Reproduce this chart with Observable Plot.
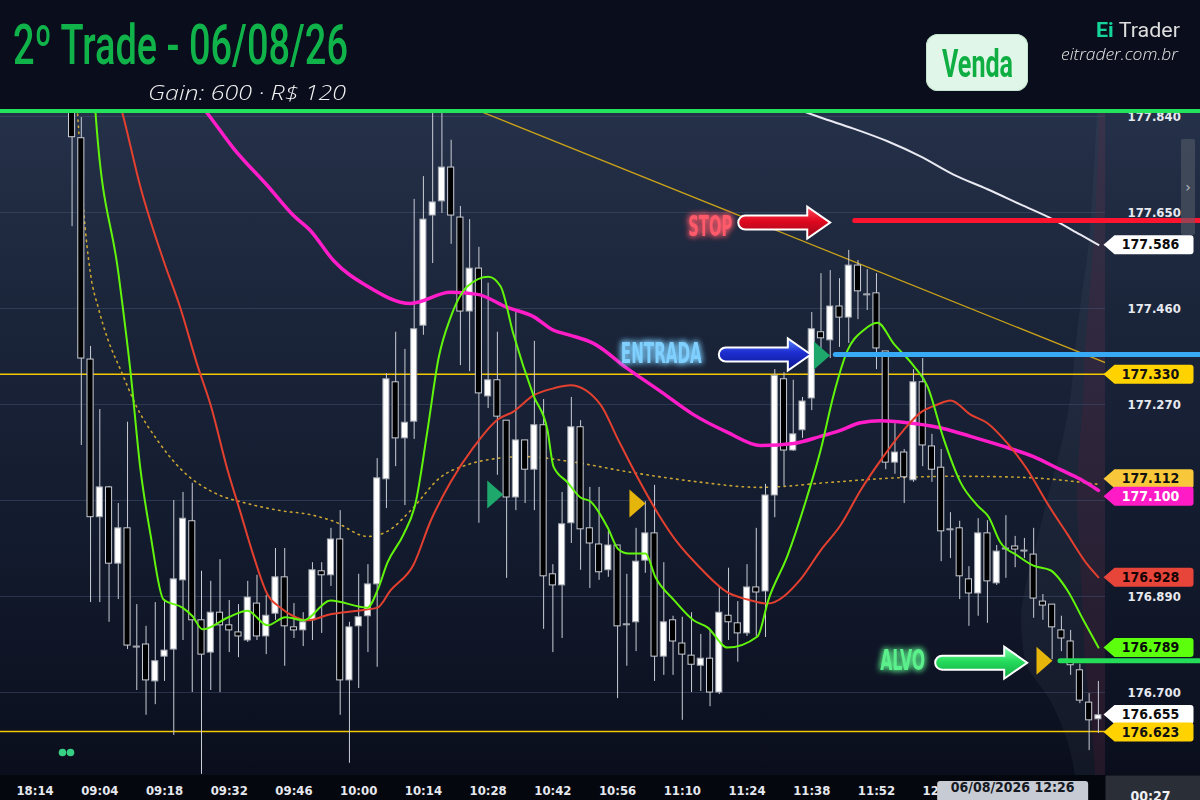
<!DOCTYPE html>
<html lang="pt-BR">
<head>
<meta charset="utf-8">
<title>2º Trade - 06/08/26</title>
<script src="https://cdn.jsdelivr.net/npm/d3@7"></script>
<script src="https://cdn.jsdelivr.net/npm/@observablehq/plot@0.6"></script>
<style>
  html, body { margin: 0; padding: 0; background: #0a0d1b; }
  #wrap { position: relative; width: 1200px; height: 800px; overflow: hidden; background: #0a0d1b; }
  #chart { position: absolute; left: 0; top: 110px; }
  .hdr { position: absolute; white-space: nowrap; line-height: 1; display: inline-block; z-index: 4; }
  #title { top: 13px; font: 500 55px Roboto, sans-serif; color: #10b34a; }
  #gain { top: 78px; font: italic 300 21px "Open Sans", sans-serif; color: #f2f2f2; }
  #brand { top: 18px; font: 400 20px Roboto, sans-serif; color: #dedede; }
  #brand b { color: #14d49a; font-weight: 700; }
  #site { top: 43px; font: italic 300 16px "Open Sans", sans-serif; color: #e8e8e8; }
  #badge { position: absolute; left: 926px; top: 34px; width: 102px; height: 57px; border-radius: 12px;
           background: #e0f6e8; box-shadow: inset 0 0 0 1px #c4e4cf; z-index: 3; }
  #venda { top: 42px; font: 700 38px Roboto, sans-serif; color: #0fae43; }
  #sep { position: absolute; left: 0; top: 109px; width: 1200px; height: 4px; background: #22e35b; z-index: 3; }
  #scroll { position: absolute; left: 1181px; top: 139px; width: 14px; height: 96px; background: rgba(88, 94, 106, 0.55);
            border-radius: 2px; color: #b8bcc4; font: 14px "DejaVu Sans", sans-serif; text-align: center; line-height: 96px; z-index: 2; }
</style>
</head>
<body>
<div id="wrap">
  <div id="chart"></div>
  <div id="sep"></div>
  <div id="scroll">›</div>
  <div id="title" class="hdr"></div>
  <div id="gain" class="hdr"></div>
  <div id="badge"></div>
  <div id="venda" class="hdr"></div>
  <div id="brand" class="hdr"><b>Ei</b> <span></span></div>
  <div id="site" class="hdr"></div>
</div>
<script>
"use strict";

// ---- header texts
const TITLE = "2º Trade - 06/08/26";
const GAIN = "Gain: 600 · R$ 120";
const SIDE = "Venda";
const BRAND = "Trader";
const SITE = "eitrader.com.br";

// ---- candles (2-min), first one is index -3 (prev. session), index 0 = 09:04
const firstIdx = -3;
const open = [
  177.882, 177.797, 177.359, 177.047, 177.106, 176.955, 177.025, 176.789, 176.795, 176.722,
  176.771, 176.785, 176.922, 177.039, 176.843, 176.779, 176.858, 176.833, 176.819, 176.803,
  176.876, 176.811, 176.856, 176.928, 176.829, 176.823, 176.843, 176.940, 176.932, 177.003,
  176.724, 176.831, 176.851, 176.914, 177.122, 177.314, 177.203, 177.236, 177.426, 177.644,
  177.672, 177.739, 177.640, 177.454, 177.539, 177.286, 177.318, 177.238, 177.086, 177.199,
  177.141, 177.229, 176.934, 176.912, 177.035, 177.225, 177.025, 176.993, 176.942, 176.991,
  176.833, 176.839, 176.961, 177.015, 176.771, 176.843, 176.797, 176.773, 176.753, 176.767,
  176.700, 176.852, 176.837, 176.817, 176.908, 176.900, 177.090, 177.320, 177.179, 177.219,
  177.282, 177.413, 177.397, 177.464, 177.442, 177.545, 177.486, 177.490, 177.375, 177.155,
  177.175, 177.120, 177.314, 177.187, 177.145, 177.021, 177.025, 176.924, 176.896, 177.015,
  176.916, 176.983, 176.989, 176.979, 176.973, 176.880, 176.874, 176.823, 176.801, 176.744,
  176.680, 176.647];
const high = [
  177.896, 177.838, 177.385, 177.260, 177.108, 177.074, 177.235, 176.874, 176.831, 176.878,
  176.884, 177.080, 177.096, 177.114, 176.940, 176.920, 176.963, 176.882, 176.874, 176.920,
  176.932, 176.892, 176.985, 176.985, 176.876, 176.858, 176.957, 176.957, 177.025, 177.060,
  176.839, 176.934, 176.953, 177.163, 177.331, 177.413, 177.379, 177.676, 177.721, 177.870,
  177.865, 177.793, 177.662, 177.636, 177.581, 177.510, 177.413, 177.238, 177.452, 177.199,
  177.395, 177.280, 176.953, 177.096, 177.284, 177.238, 177.106, 177.106, 177.019, 176.991,
  176.934, 177.025, 177.078, 177.110, 176.957, 176.851, 176.849, 176.858, 176.815, 176.825,
  176.908, 176.946, 176.880, 176.953, 177.025, 177.112, 177.339, 177.333, 177.318, 177.284,
  177.452, 177.529, 177.535, 177.519, 177.575, 177.555, 177.537, 177.529, 177.375, 177.232,
  177.181, 177.339, 177.361, 177.211, 177.181, 177.056, 177.039, 176.949, 177.044, 177.040,
  176.991, 177.050, 177.009, 177.005, 177.025, 176.894, 176.874, 176.851, 176.823, 176.756,
  176.698, 176.722];
const low = [
  177.622, 177.189, 176.878, 176.878, 176.839, 176.884, 176.785, 176.704, 176.655, 176.676,
  176.722, 176.615, 176.803, 176.700, 176.538, 176.704, 176.700, 176.779, 176.769, 176.799,
  176.803, 176.775, 176.843, 176.752, 176.807, 176.791, 176.803, 176.817, 176.910, 176.655,
  176.560, 176.708, 176.779, 176.750, 177.064, 177.147, 177.070, 177.201, 177.407, 177.549,
  177.648, 177.587, 177.347, 177.335, 177.035, 177.262, 177.130, 176.926, 177.060, 177.074,
  177.060, 176.825, 176.779, 176.807, 176.995, 176.942, 176.906, 176.922, 176.928, 176.688,
  176.752, 176.781, 176.936, 176.722, 176.734, 176.734, 176.645, 176.700, 176.702, 176.672,
  176.696, 176.803, 176.760, 176.811, 176.811, 176.809, 177.046, 177.108, 177.177, 177.203,
  177.258, 177.361, 177.361, 177.383, 177.391, 177.438, 177.456, 177.339, 177.141, 177.132,
  177.074, 177.116, 177.147, 177.116, 176.959, 176.965, 176.884, 176.831, 176.851, 176.837,
  176.912, 176.926, 176.947, 176.965, 176.847, 176.843, 176.765, 176.781, 176.734, 176.678,
  176.585, 176.619];
const close = [
  177.799, 177.361, 177.047, 177.106, 176.955, 177.025, 176.793, 176.789, 176.724, 176.762,
  176.783, 176.924, 177.044, 176.843, 176.775, 176.858, 176.833, 176.823, 176.811, 176.888,
  176.811, 176.852, 176.928, 176.831, 176.823, 176.839, 176.942, 176.932, 177.003, 176.724,
  176.829, 176.849, 176.914, 177.124, 177.320, 177.203, 177.234, 177.419, 177.636, 177.670,
  177.739, 177.644, 177.454, 177.539, 177.292, 177.318, 177.246, 177.086, 177.199, 177.141,
  177.229, 176.930, 176.912, 177.033, 177.225, 177.023, 176.995, 176.938, 176.991, 176.831,
  176.835, 176.959, 177.015, 176.771, 176.839, 176.801, 176.775, 176.755, 176.767, 176.700,
  176.858, 176.839, 176.817, 176.908, 176.898, 177.090, 177.327, 177.179, 177.211, 177.276,
  177.419, 177.401, 177.464, 177.442, 177.545, 177.494, 177.486, 177.381, 177.155, 177.175,
  177.126, 177.314, 177.189, 177.141, 177.019, 177.021, 176.930, 176.896, 177.015, 176.920,
  176.979, 176.983, 176.983, 176.979, 176.886, 176.872, 176.829, 176.807, 176.754, 176.684,
  176.645, 176.655];

// ---- indicators, [candle index, price]
const emaFast = [
  [-0.8, 177.951], [-0.47, 177.850], [2.02, 177.529], [3.32, 177.335], [4.40, 177.141], [5.48, 177.013],
  [6.89, 176.884], [8.94, 176.868], [10.03, 176.851], [11.11, 176.825], [13.92, 176.849], [15.97, 176.862],
  [18.14, 176.833], [20.08, 176.849], [22.03, 176.843], [24.95, 176.882], [28.95, 176.868], [30.03, 176.902],
  [31.11, 176.957], [32.85, 177.013], [34.14, 177.074], [35.44, 177.219], [36.63, 177.361], [37.93, 177.442],
  [39.77, 177.504], [42.04, 177.523], [43.34, 177.504], [44.74, 177.409], [46.90, 177.288], [48.42, 177.219],
  [49.07, 177.147], [50.58, 177.116], [51.99, 177.086], [53.07, 177.078], [54.91, 177.027], [56.10, 176.983],
  [57.18, 176.975], [59.02, 176.975], [60.10, 176.928], [62.05, 176.884], [64.21, 176.843], [65.72, 176.829],
  [67.89, 176.789], [71.13, 176.811], [72.32, 176.884], [74.38, 176.971], [76.54, 177.090], [77.95, 177.179],
  [79.35, 177.288], [80.87, 177.377], [82.60, 177.417], [84.11, 177.432], [85.84, 177.391], [88.00, 177.347],
  [89.52, 177.306], [91.25, 177.203], [93.09, 177.116], [94.93, 177.070], [96.12, 177.048], [97.41, 176.997],
  [99.25, 176.971], [100.98, 176.951], [102.82, 176.942], [104.66, 176.902], [106.39, 176.843], [108.01, 176.789]];
const emaSlow = [
  [1.17, 177.931], [2.46, 177.846], [4.40, 177.700], [6.89, 177.555], [8.73, 177.460], [10.57, 177.347],
  [11.97, 177.270], [13.81, 177.141], [15.22, 177.056], [16.62, 176.971], [18.14, 176.894], [19.54, 176.868],
  [20.95, 176.851], [22.46, 176.843], [24.95, 176.855], [27.87, 176.862], [30.03, 176.868], [31.44, 176.902],
  [33.93, 176.953], [35.77, 177.039], [37.93, 177.116], [40.41, 177.185], [43.01, 177.240], [44.74, 177.256],
  [46.90, 177.288], [49.07, 177.302], [50.91, 177.308], [54.15, 177.270], [55.99, 177.203], [58.15, 177.126],
  [60.31, 177.056], [62.47, 176.997], [64.97, 176.946], [67.89, 176.898], [70.05, 176.884], [72.21, 176.876],
  [75.78, 176.924], [77.95, 176.981], [80.11, 177.031], [82.27, 177.100], [84.43, 177.159], [86.92, 177.219],
  [88.76, 177.254], [90.60, 177.270], [92.01, 177.278], [94.17, 177.250], [96.01, 177.233], [98.17, 177.193],
  [100.33, 177.141], [102.49, 177.074], [104.66, 177.013], [106.82, 176.953], [108.01, 176.928]];
const smaMid = [
  [9.27, 177.901], [11.65, 177.846], [14.46, 177.777], [18.14, 177.703], [20.95, 177.644], [22.79, 177.614],
  [25.27, 177.555], [28.95, 177.504], [33.61, 177.470], [37.93, 177.492], [40.85, 177.488], [44.09, 177.462],
  [46.90, 177.444], [49.07, 177.417], [50.91, 177.407], [53.39, 177.391], [57.07, 177.341], [60.64, 177.296],
  [64.21, 177.250], [67.89, 177.215], [71.45, 177.189], [75.02, 177.193], [77.95, 177.207], [80.11, 177.219],
  [82.27, 177.234], [84.43, 177.238], [87.35, 177.234], [90.60, 177.225], [94.17, 177.207], [97.41, 177.189],
  [100.98, 177.167], [103.90, 177.141], [106.06, 177.122], [108.01, 177.100]];
const vwap = [
  [-2.63, 177.892], [-2.41, 177.846], [-1.76, 177.658], [-1.01, 177.529], [-0.14, 177.460], [0.83, 177.401],
  [2.24, 177.339], [4.08, 177.262], [6.24, 177.199], [9.05, 177.137], [12.30, 177.096], [15.97, 177.074],
  [19.54, 177.060], [22.79, 177.052], [25.27, 177.039], [28.95, 177.009], [31.11, 177.019], [33.61, 177.060],
  [36.85, 177.126], [39.77, 177.151], [42.83, 177.163], [45.91, 177.167], [50.91, 177.157], [57.07, 177.137],
  [64.21, 177.118], [71.45, 177.106], [79.03, 177.116], [85.19, 177.124], [92.33, 177.128], [99.57, 177.126],
  [108.01, 177.112]];
const smaLong = [
  [74.9, 177.858], [77.95, 177.838], [81.52, 177.816], [85.19, 177.791], [88.76, 177.761], [92.33, 177.725],
  [96.01, 177.696], [99.57, 177.666], [103.14, 177.636], [106.06, 177.606], [108.01, 177.586]];
const trendLine = [[41.17, 177.850], [108.99, 177.351]];

// ---- volume profile at the right edge: price, total, sell (relative volume)
const profPrice = [177.848, 177.773, 177.674, 177.575, 177.476, 177.377, 177.278, 177.179,
  177.080, 177.001, 176.921, 176.843, 176.763, 176.684, 176.605, 176.536];
const profTotal = [8, 10, 13, 17, 24, 30, 35, 45, 58, 68, 78, 84, 80, 55, 38, 30];
const profSell = [6, 7, 9, 12, 16, 20, 22, 26, 28, 26, 24, 22, 20, 16, 12, 10];

// ---- levels and trade
const yellowLevels = [177.330, 176.623];
const tradeLabels = ["STOP", "ENTRADA", "ALVO"];
const tradePrice = [177.634, 177.369, 176.763];
const tradeStart = [81.7, 79.6, 103.9];
const arrowTip = [79.0, 76.9, 100.3];
const signalIdx = [42.77, 58.15, 78.11, 102.17];
const signalPrice = [177.092, 177.074, 177.367, 176.763];
const signalSide = ["buy", "sell", "buy", "sell"];
const tagValues = [177.586, 177.330, 177.112, 177.100, 176.928, 176.789, 176.655, 176.623];
const tagKinds = ["sma200", "level", "vwap", "sma", "ema21", "ema9", "last", "level"];

// ---- axes
const tickIdx = [-7, 0, 7, 14, 21, 28, 35, 42, 49, 56, 63, 70, 77, 84, 91];
const tickLabels = ["18:14", "09:04", "09:18", "09:32", "09:46", "10:00", "10:14", "10:28",
  "10:42", "10:56", "11:10", "11:24", "11:38", "11:52", "12:06"];
const priceTicks = [177.840, 177.650, 177.460, 177.270, 177.080, 176.890, 176.700];
const crossIdx = 101;
const crossLabel = "06/08/2026 12:26";
const countdown = "00:27";

// ---- layout
const W = 1200, H = 690, MT = 1, MB = 25, MR = 95;
const xDom = [-10.74, 108.77];
const yDom = [176.5358, 177.8499];
const xEdge = 119.1;   // index of the right image edge
const PX = 9.246;      // pixels per candle
const fmt3 = d3.format(".3f");
const FONT = "'DejaVu Sans Condensed', 'DejaVu Sans', sans-serif";

const TAG_STYLE = {
  sma200: ["#ffffff", "#0c0c0c"], level: ["#ffd200", "#111"], vwap: ["#f8c83a", "#111"],
  sma: ["#ff1cc6", "#ffffff"], ema21: ["#e7443a", "#160404"], ema9: ["#5cff0c", "#0a0a0a"],
  last: ["#ffffff", "#0c0c0c"],
};
const TRADE_STYLE = [
  { line: "#ff1430", grad: "gStop", text: "#ff5a6b", tdx: -98, tdy: 5.8, ady: 2, w: 44 },
  { line: "#38a9f4", grad: "gEntry", text: "#7fd0ff", tdx: -109, tdy: -0.7, ady: 0, w: 81 },
  { line: "#25dc58", grad: "gTarget", text: "#5cf08c", tdx: -102, tdy: 0.3, ady: 2, w: 45 },
];

const candles = open.map((o, k) => ({ i: firstIdx + k, o, h: high[k], l: low[k], c: close[k] }));
const up = candles.filter((d) => d.c >= d.o);
const dn = candles.filter((d) => d.c < d.o);
const pts = (arr) => arr.map(([i, v]) => ({ i, v }));
const bodyTop = (d) => (Math.abs(d.c - d.o) < 0.002 ? d.o + 0.002 : d.c); // keep dojis visible
const profile = profPrice.map((p, k) => ({ p, total: xDom[1] - profTotal[k] / PX, sell: xDom[1] - profSell[k] / PX }));

// symbols
function roundRect(c, x, y, w, h, r) {
  c.moveTo(x + r, y);
  c.arcTo(x + w, y, x + w, y + h, r); c.arcTo(x + w, y + h, x, y + h, r);
  c.arcTo(x, y + h, x, y, r); c.arcTo(x, y, x + w, y, r); c.closePath();
}
const rectSym = (w, h, r) => ({ draw(c) { roundRect(c, -w / 2, -h / 2, w, h, Math.max(r, 0.01)); } });
const triSym = { draw(c) { c.moveTo(-8, -14); c.lineTo(8, 0); c.lineTo(-8, 14); c.closePath(); } };
const arrowSym = { draw(c) {
  c.moveTo(0, 0); c.lineTo(-23, -16); c.lineTo(-23, -7); c.lineTo(-85, -7);
  c.arc(-85, 0, 7, -Math.PI / 2, Math.PI / 2, true);
  c.lineTo(-23, 7); c.lineTo(-23, 16); c.closePath();
} };
const tagSym = { draw(c) {
  c.moveTo(-2, 0); c.lineTo(9, -9.5); c.arcTo(88, -9.5, 88, 9.5, 3);
  c.arcTo(88, 9.5, 9, 9.5, 3); c.lineTo(9, 9.5); c.closePath();
} };

// push apart price tags that overlap
const yPix = d3.scaleLinear(yDom, [H - MB, MT]);
const tags = tagValues.map((v, k) => ({ v, kind: tagKinds[k], py: yPix(v) }));
for (let k = 1; k < tags.length; k++) {
  const gap = tags[k].py - tags[k - 1].py;
  if (gap < 17.5) { const s = (17.5 - gap) / 2; tags[k - 1].py -= s; tags[k].py += s; }
}
tags.forEach((t) => { t.pos = yPix.invert(t.py); });
// axis labels hidden behind a price tag are dropped, as the platform does
const axisTicks = priceTicks.filter((p) => !tags.some((t) => Math.abs(t.py - yPix(p)) < 12));

const line = (data, opts) => Plot.line(pts(data), { x: "i", y: "v", curve: "monotone-x", clip: true, ...opts });

const tradeMarks = tradeLabels.flatMap((label, k) => {
  const s = TRADE_STYLE[k];
  const d = [{ i: arrowTip[k], v: tradePrice[k], from: tradeStart[k], label }];
  return [
    Plot.ruleY(d, { y: "v", x1: "from", x2: () => xEdge, stroke: s.line, strokeWidth: 5, strokeLinecap: "round" }),
    Plot.dot(d, { x: "i", y: "v", dy: s.ady, symbol: arrowSym, r: 5, fill: `url(#${s.grad})`, stroke: "#ffffff", strokeWidth: 2 }),
    Plot.text(d, { x: "i", y: "v", text: "label", dx: s.tdx, dy: s.tdy, textAnchor: "end", lineAnchor: "middle",
      fill: s.text, fontFamily: FONT, fontSize: 29, fontWeight: "bold" }),
  ];
});

const signals = signalIdx.map((i, k) => ({ i, v: signalPrice[k], side: signalSide[k] }));

const tagMarks = tags.flatMap((t) => {
  const [bg, fg] = TAG_STYLE[t.kind];
  return [
    Plot.dot([t], { x: () => xDom[1], y: "pos", symbol: tagSym, r: 5, fill: bg }),
    Plot.text([t], { x: () => xDom[1], y: "pos", text: (d) => fmt3(d.v), dx: 45, fill: fg, fontSize: 14, fontWeight: "bold" }),
  ];
});

const chart = Plot.plot({
  width: W, height: H,
  marginLeft: 0, marginRight: MR, marginTop: MT, marginBottom: MB,
  style: {
    background: "linear-gradient(180deg, #253149 0px, #1b253a 200px, #131b2e 420px, #0d1222 600px, #0a0e1c 665px, #05070e 665px)",
    color: "#e6e9ef", fontFamily: FONT, fontSize: "13px", fontWeight: "bold", overflow: "visible",
  },
  x: { domain: xDom, ticks: tickIdx, tickFormat: (d) => tickLabels[tickIdx.indexOf(d)], tickSize: 0, tickPadding: 10, label: null },
  y: { domain: yDom, axis: "right", ticks: axisTicks, tickFormat: fmt3, tickSize: 0, tickPadding: 22, label: null },
  marks: [
    Plot.areaX(profile, { y: "p", x1: "total", x2: () => xDom[1], fill: "#8a96b0", fillOpacity: 0.07, curve: "monotone-y" }),
    Plot.areaX(profile, { y: "p", x1: "sell", x2: () => xDom[1], fill: "#7a1a36", fillOpacity: 0.16, curve: "monotone-y" }),
    Plot.ruleY(priceTicks, { stroke: "#41506b", strokeOpacity: 0.55 }),
    Plot.ruleY(yellowLevels, { stroke: "#f3c800", strokeWidth: 1.5 }),
    line(trendLine, { stroke: "#c9a219", strokeWidth: 1.3, curve: "linear" }),
    line(smaLong, { stroke: "#e9e9f2", strokeWidth: 2 }),
    line(vwap, { stroke: "#c9a431", strokeWidth: 1.6, strokeDasharray: "1.5 4.5" }),
    Plot.ruleX(candles, { x: "i", y1: "l", y2: "h", stroke: "#c9cdd5", strokeWidth: 1, clip: true }),
    Plot.rect(dn, { x1: (d) => d.i - 0.33, x2: (d) => d.i + 0.33, y1: "o", y2: bodyTop,
      fill: "#000000", stroke: "#c9cdd5", strokeWidth: 1, clip: true }),
    Plot.rect(up, { x1: (d) => d.i - 0.33, x2: (d) => d.i + 0.33, y1: "o", y2: bodyTop,
      fill: "#ffffff", stroke: "#a2a7b0", strokeWidth: 1, clip: true }),
    line(smaMid, { stroke: "#ff1dc9", strokeWidth: 3.5 }),
    line(emaSlow, { stroke: "#e4402f", strokeWidth: 2 }),
    line(emaFast, { stroke: "#62f50c", strokeWidth: 2 }),
    ...tradeMarks,
    Plot.dot(signals.filter((d) => d.side === "buy"), { x: "i", y: "v", symbol: triSym, r: 5, fill: "#1fa86b" }),
    Plot.dot(signals.filter((d) => d.side === "sell"), { x: "i", y: "v", symbol: triSym, r: 5, fill: "#e5b50b" }),
    ...tagMarks,
    Plot.dot([crossIdx], { x: (d) => d, frameAnchor: "bottom", dx: -21, dy: 16, symbol: rectSym(151, 21, 3), r: 5, fill: "#c6cbd4" }),
    Plot.text([crossIdx], { x: (d) => d, text: () => crossLabel, frameAnchor: "bottom", dx: -21, dy: 16,
      fill: "#15181e", fontSize: 14, fontWeight: "bold" }),
    Plot.dot([0], { x: () => xDom[1], frameAnchor: "bottom", dx: 47.5, dy: 12.5, symbol: rectSym(95, 25, 0), r: 5, fill: "#2a2e37" }),
    Plot.text([0], { x: () => xDom[1], text: () => countdown, frameAnchor: "bottom", dx: 45, dy: 16, lineAnchor: "top",
      fill: "#eef0f3", fontSize: 14, fontWeight: "bold" }),
    Plot.dot([0], { frameAnchor: "bottom-left", dx: 62, dy: -23, r: 3.8, fill: "#37cf83" }),
    Plot.dot([0], { frameAnchor: "bottom-left", dx: 70, dy: -23, r: 3.8, fill: "#37cf83" }),
  ],
});

const svg = d3.select(chart);
svg.insert("defs", ":first-child").html(`
  <linearGradient id="gStop" x1="0" y1="0" x2="0" y2="1">
    <stop offset="0" stop-color="#ff4a5c"/><stop offset="0.45" stop-color="#e0081f"/><stop offset="1" stop-color="#98091a"/>
  </linearGradient>
  <linearGradient id="gEntry" x1="0" y1="0" x2="0" y2="1">
    <stop offset="0" stop-color="#5d8cff"/><stop offset="0.42" stop-color="#1e2fd2"/><stop offset="1" stop-color="#0b148c"/>
  </linearGradient>
  <linearGradient id="gTarget" x1="0" y1="0" x2="0" y2="1">
    <stop offset="0" stop-color="#8affb0"/><stop offset="0.45" stop-color="#25dc5c"/><stop offset="1" stop-color="#11a843"/>
  </linearGradient>
  <filter id="glow" x="-40%" y="-80%" width="180%" height="260%">
    <feGaussianBlur in="SourceGraphic" stdDeviation="3.2" result="b"/>
    <feMerge><feMergeNode in="b"/><feMergeNode in="b"/><feMergeNode in="SourceGraphic"/></feMerge>
  </filter>`);
// condensed, glowing trade labels
const annW = Object.fromEntries(tradeLabels.map((l, k) => [l, TRADE_STYLE[k].w]));
svg.selectAll("text").filter(function () { return annW[this.textContent] !== undefined; }).each(function () {
  this.setAttribute("textLength", annW[this.textContent]);
  this.setAttribute("lengthAdjust", "spacingAndGlyphs");
  this.setAttribute("filter", "url(#glow)");
});
document.getElementById("chart").appendChild(chart);

// ---- header
document.getElementById("title").textContent = TITLE;
document.getElementById("gain").textContent = GAIN;
document.getElementById("venda").textContent = SIDE;
document.querySelector("#brand span").textContent = BRAND;
document.getElementById("site").textContent = SITE;

function fit(id, target, anchor, ax) {
  const n = document.getElementById(id);
  n.style.transform = "none";
  const w = n.getBoundingClientRect().width;
  n.style.transformOrigin = "0 50%";
  n.style.transform = `scaleX(${target / w})`;
  n.style.left = (anchor === "left" ? ax : anchor === "right" ? ax - target : ax - target / 2) + "px";
}
function fitAll() {
  fit("title", 335, "left", 13);
  fit("gain", 198, "right", 346);
  fit("venda", 71, "center", 977);
  fit("brand", 84, "right", 1180);
  fit("site", 117, "right", 1178);
}
fitAll();
if (document.fonts) document.fonts.ready.then(fitAll);
</script>
</body>
</html>
